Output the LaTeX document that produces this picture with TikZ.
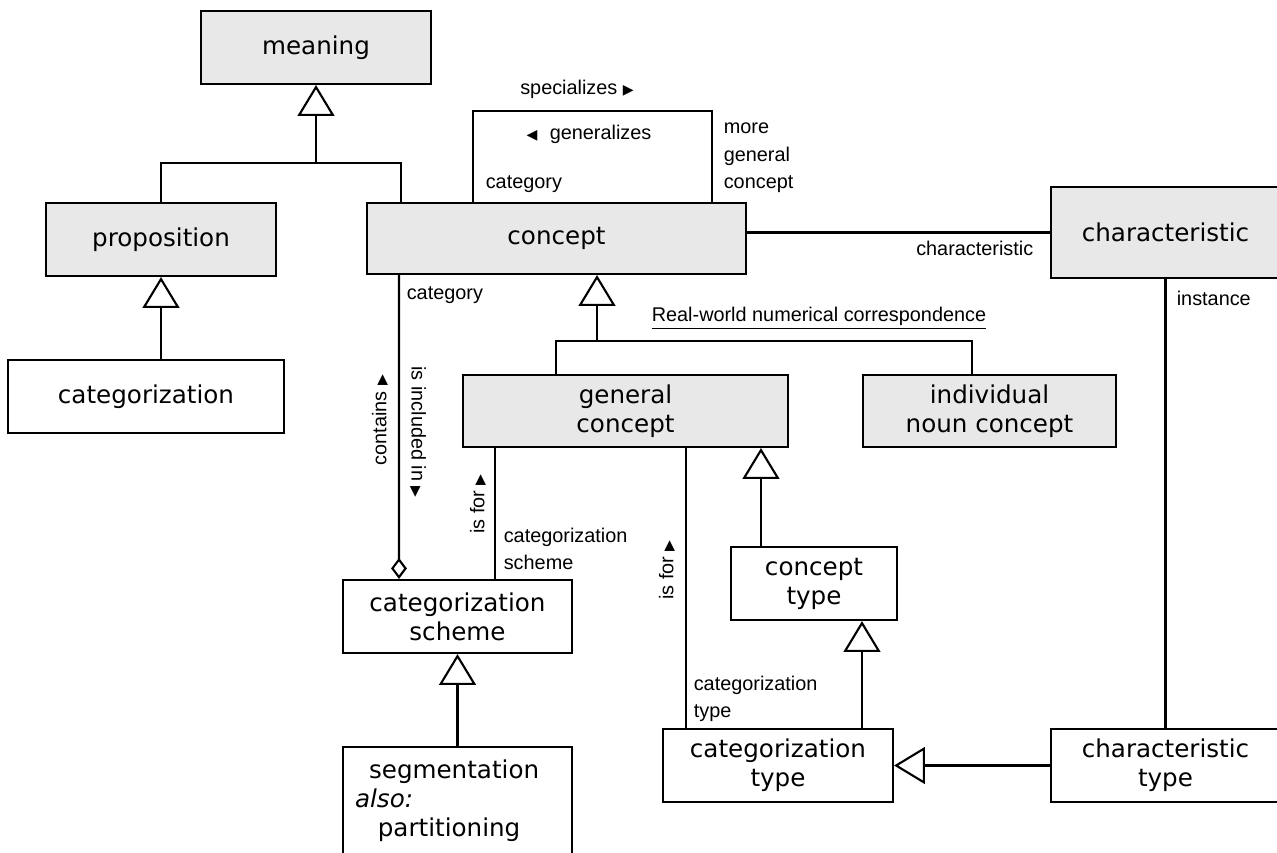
\documentclass[tikz,border=0pt]{standalone}
\usepackage{fontspec}
\setmainfont{DejaVu Sans}
\newfontfamily\lblfont{Liberation Sans}
\newfontfamily\symfont{DejaVu Sans}
\usetikzlibrary{arrows.meta,calc}

\newcommand{\rtri}{{\symfont\fontsize{8}{8}\selectfont ▶}}
\newcommand{\ltri}{{\symfont\fontsize{8}{8}\selectfont ◀}}

\begin{document}
\begin{tikzpicture}[x=0.02cm, y=-0.02cm, line width=1.2pt,
  b/.style={draw, inner sep=2pt, align=center, minimum height=1.46cm,
    font=\fontsize{14}{16.5}\selectfont},
  shaded/.style={b, fill=black!9},
  lbl/.style={font=\lblfont\fontsize{11.3}{15.6}\selectfont, inner sep=1pt, align=left},
  gen/.style={-{Triangle[open, length=17.6pt, width=21pt]}},
  agg/.style={{Diamond[open, length=12pt, width=9pt]}-}]
  \useasboundingbox (0,0) rectangle (1277,852);

  \node[shaded, minimum width=4.6cm]  (meaning) at (316,47.5)  {meaning};
  \node[shaded, minimum width=4.6cm]  (prop)    at (161,239.5) {proposition};
  \node[b, minimum width=5.52cm]      (categ)   at (146,396.5) {categorization};
  \node[shaded, minimum width=7.58cm, minimum height=1.42cm] (concept) at (556.5,238.5) {concept};
  \node[shaded, minimum width=4.58cm, minimum height=1.82cm] (charac)  at (1165.5,232.5) {characteristic};
  \node[shaded, minimum width=6.5cm, minimum height=1.44cm]  (general) at (625.5,411) {general\\concept};
  \node[shaded, minimum width=5.06cm, minimum height=1.44cm] (indiv)   at (989.5,411) {individual\\noun concept};
  \node[b, minimum width=3.32cm] (ctype)    at (814,583.5)   {concept\\type};
  \node[b, minimum width=4.58cm] (scheme)   at (457.5,616.5) {categorization\\scheme};
  \node[b, minimum width=4.58cm, minimum height=2.16cm, text width=4.1cm, align=left] (segm) at (457.5,801)
    {\hspace*{8pt}segmentation\\\textit{also:}\\\hspace*{13pt}partitioning};
  \node[b, minimum width=4.6cm]  (cattype)  at (778,765.5)    {categorization\\type};
  \node[b, minimum width=4.58cm] (chartype) at (1165.5,765.5) {characteristic\\type};

  % meaning
  \coordinate (mj) at (316,163);
  \draw[gen] (mj) -- (meaning.south);
  \draw (prop.north) |- (mj) -| ($(concept.north west)+(35,0)$);
  \draw[gen] (prop.south |- categ.north) -- (prop.south);

  % concept specializes / generalizes
  \coordinate (sl) at ($(concept.north west)+(107,0)$);
  \coordinate (sr) at ($(concept.north west)+(346,0)$);
  \coordinate (st) at ($(sl)+(0,-91)$);
  \draw (sl) -- (st) -- (st -| sr) -- (sr);
  \node[lbl] (spec) at (577,89) {specializes \rtri};
  \node[lbl] (genl) at (589,134) {\ltri\hspace{7pt}generalizes};
  \node[lbl, anchor=west] (catl1) at (483,184) {category};
  \node[lbl, anchor=west] (moregen) at (721,158) {more\\general\\concept};

  % characteristic
  \draw (concept.east |- charac.west) -- (charac.west);
  \node[lbl, anchor=east] (charl) at (1036,248) {characteristic};
  \draw (charac.south) -- (chartype.north);
  \node[lbl, anchor=west] (inst) at (1174,298) {instance};

  % categorization scheme
  \draw[agg] ($(scheme.north west)+(57,0)$) -- ($(concept.south west)+(33,0)$);
  \node[lbl, anchor=west] (catl2) at (404,295) {category};
  \node[lbl, rotate=90]  (cont) at (380,420) {contains \rtri};
  \node[lbl, rotate=-90] (incl) at (418,432) {is included in \rtri};
  \draw[gen] (scheme.south |- segm.north) -- (scheme.south);

  % general / individual
  \coordinate (cj) at (597,341);
  \draw[gen] (cj) -- (cj |- concept.south);
  \draw ($(general.north west)+(94,0)$) |- (cj) -| ($(indiv.north west)+(110,0)$);
  \node[lbl] (rw) at (819,318) {\underline{Real-world numerical correspondence}};

  \coordinate (g1) at ($(general.south west)+(33,0)$);
  \draw (g1) -- (g1 |- scheme.north);
  \node[lbl, rotate=90] (isfor1) at (478,504) {is for \rtri};
  \node[lbl, anchor=west] (schl) at (501,549) {categorization\\scheme};

  \coordinate (g2) at ($(general.south west)+(224,0)$);
  \draw (g2) -- (g2 |- cattype.north);
  \node[lbl, rotate=90] (isfor2) at (667,570) {is for \rtri};
  \node[lbl, anchor=west] (typl) at (691,699) {categorization\\type};

  % types
  \coordinate (ct1) at ($(ctype.north west)+(31,0)$);
  \draw[gen] (ct1) -- (ct1 |- general.south);
  \coordinate (ct2) at ($(cattype.north west)+(200,0)$);
  \draw[gen] (ct2) -- (ct2 |- ctype.south);
  \draw[gen] (chartype.west) -- (cattype.east);
\end{tikzpicture}
\end{document}
